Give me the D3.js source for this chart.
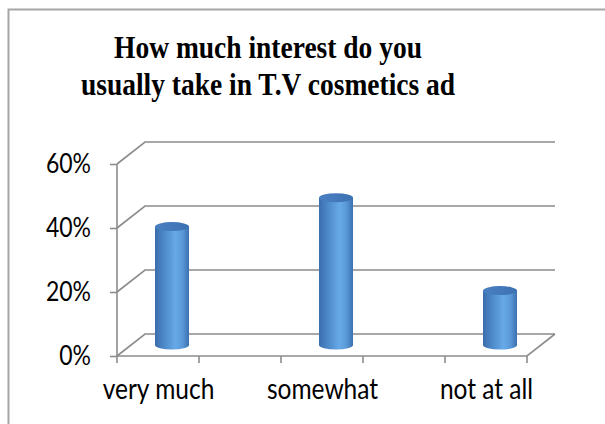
<!DOCTYPE html>
<html>
<head>
<meta charset="utf-8">
<script src="https://cdn.jsdelivr.net/npm/d3@7"></script>
<style>
  html, body { margin: 0; padding: 0; background: #fff; }
  svg { display: block; }
</style>
</head>
<body>
<svg id="chart" width="605" height="424"></svg>
<script>
const titleLines = ["How much interest do you", "usually take in T.V cosmetics ad"];
const categories = ["very much", "somewhat", "not at all"];
const values = [0.37, 0.46, 0.17];
const yTicks = [0, 0.2, 0.4, 0.6];

const svg = d3.select("#chart");

// depth offset of the 3D box
const dx = 28, dy = -22;
const vStretch = 1.14;

// frame
svg.append("rect")
  .attr("x", 8.5).attr("y", 9.5)
  .attr("width", 700).attr("height", 500)
  .attr("fill", "#fff")
  .attr("stroke", "#a6a6a6").attr("stroke-width", 2);

// title
const title = svg.append("text")
  .attr("text-anchor", "middle")
  .attr("transform", `translate(268,58) scale(1,${vStretch})`)
  .attr("font-family", "'Liberation Serif', 'Times New Roman', serif")
  .attr("font-weight", "bold")
  .attr("font-size", 27.5)
  .attr("fill", "#000");
titleLines.forEach((t, i) => {
  title.append("tspan").attr("x", 0).attr("y", i * 37 / vStretch).text(t);
});

// scales
const x = d3.scalePoint().domain(categories).range([158, 486]);
const step = x.step();
const y = d3.scaleLinear().domain([0, 0.6]).range([356, 164]);

const xLeft = x(categories[0]) - step / 4;
const xRight = x(categories[categories.length - 1]) + step / 4;

const gridColor = "#8c8c8c";

// gridlines (back wall + left side diagonal)
const grid = svg.append("g").attr("fill", "none").attr("stroke", gridColor).attr("stroke-width", 1.6);
yTicks.forEach(t => {
  const yy = y(t);
  grid.append("path")
    .attr("d", `M${xLeft},${yy} L${xLeft + dx},${yy + dy} L${xRight + dx},${yy + dy}`);
});
// floor front & right edges
grid.append("path")
  .attr("d", `M${xLeft},${y(0)} L${xRight},${y(0)} L${xRight + dx},${y(0) + dy}`);

// y axis
const yAxis = svg.append("g")
  .attr("transform", `translate(${xLeft},0)`)
  .call(d3.axisLeft(y).tickValues(yTicks).tickFormat(d3.format(".0%")).tickSize(7).tickPadding(19));
yAxis.select(".domain").attr("stroke", gridColor).attr("stroke-width", 1.6)
  .attr("d", `M0,${y(0.6)}V${y(0)}`);
yAxis.selectAll(".tick line").attr("stroke", gridColor).attr("stroke-width", 1.6);
yAxis.selectAll(".tick text")
  .attr("transform", `scale(1,${vStretch})`)
  .attr("font-family", "Lato, 'Open Sans', sans-serif")
  .attr("font-size", 23).attr("fill", "#000");

// x tick marks between halves of each category slot
const xTickPos = [];
categories.forEach(c => { xTickPos.push(x(c) - step / 4, x(c) + step / 4); });
svg.append("g").selectAll("line").data(xTickPos).join("line")
  .attr("x1", d => d).attr("x2", d => d)
  .attr("y1", y(0)).attr("y2", y(0) + 7)
  .attr("stroke", gridColor).attr("stroke-width", 1.6);

// x labels
const xAxis = svg.append("g")
  .attr("transform", `translate(0,${y(0)})`)
  .call(d3.axisBottom(x).tickSize(0).tickPadding(20));
xAxis.select(".domain").remove();
xAxis.selectAll(".tick text")
  .attr("transform", `scale(1,${vStretch})`)
  .attr("font-family", "Lato, 'Open Sans', sans-serif")
  .attr("font-size", 24.5).attr("fill", "#000");

// gradients
const defs = svg.append("defs");
const bodyGrad = defs.append("linearGradient").attr("id", "bodyGrad")
  .attr("x1", "0").attr("x2", "1").attr("y1", "0").attr("y2", "0");
[[0, "#3a6dad"], [0.25, "#4c88c8"], [0.6, "#67a9e8"], [0.8, "#5a9ad9"], [1, "#3b70b0"]]
  .forEach(([o, c]) => bodyGrad.append("stop").attr("offset", o).attr("stop-color", c));
const topGrad = defs.append("linearGradient").attr("id", "topGrad")
  .attr("x1", "0").attr("x2", "1").attr("y1", "0").attr("y2", "0");
[[0, "#4a80c2"], [1, "#3c72b2"]]
  .forEach(([o, c]) => topGrad.append("stop").attr("offset", o).attr("stop-color", c));

// cylinders
const rx = 17, ry = 4.5;
const bars = svg.append("g").selectAll("g").data(categories.map((c, i) => ({ c, v: values[i] }))).join("g");
bars.append("path")
  .attr("fill", "url(#bodyGrad)")
  .attr("d", d => {
    const cx = x(d.c) + dx / 2;
    const yb = y(0) + dy / 2;
    const yt = y(d.v) + dy / 2;
    return `M${cx - rx},${yt} L${cx - rx},${yb} A${rx},${ry} 0 0 0 ${cx + rx},${yb} L${cx + rx},${yt} Z`;
  });
bars.append("ellipse")
  .attr("cx", d => x(d.c) + dx / 2)
  .attr("cy", d => y(d.v) + dy / 2)
  .attr("rx", rx).attr("ry", ry)
  .attr("fill", "url(#topGrad)");
</script>
</body>
</html>
